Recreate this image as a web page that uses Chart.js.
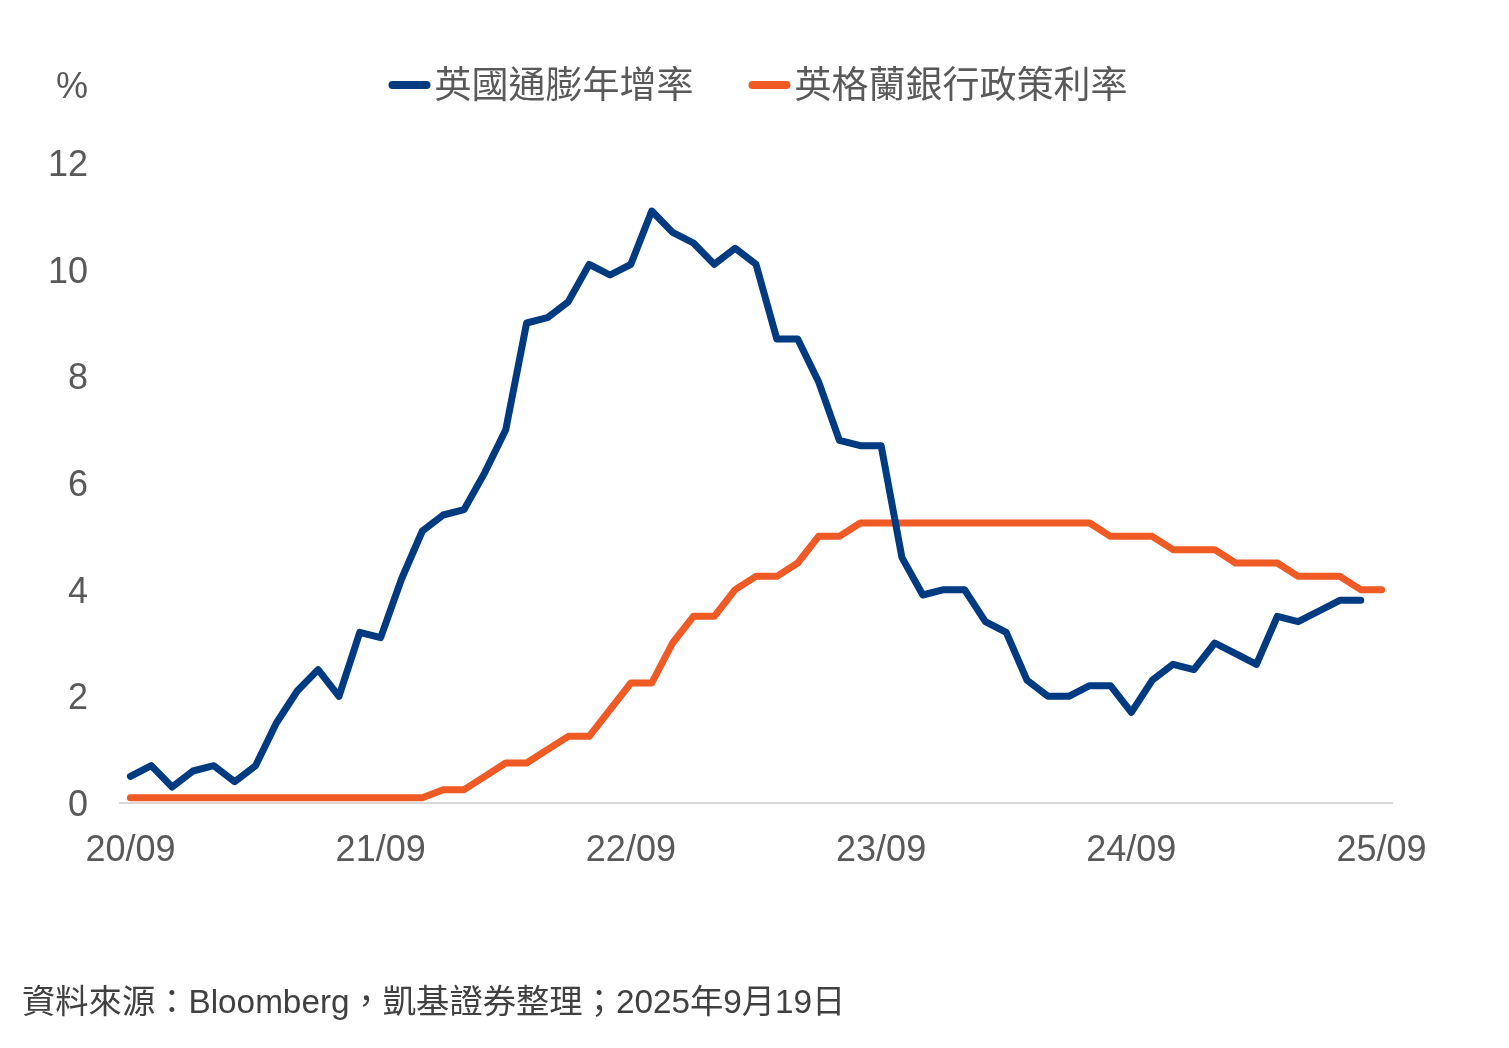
<!DOCTYPE html>
<html lang="zh-Hant">
<head>
  <meta charset="UTF-8" />
  <title>英國通膨年增率 vs 英格蘭銀行政策利率</title>
  <script src="https://cdn.jsdelivr.net/npm/chart.js"></script>
  <style>
    html, body { margin: 0; padding: 0; background: #fff; }
    #wrap { position: relative; width: 1509px; height: 1048px; }
    #chart { position: absolute; left: 0; top: 0; }
    #source {
      position: absolute; left: 22px; top: 974px;
      font-family: "Liberation Sans", "Noto Sans CJK TC", sans-serif;
      font-size: 33.3px; color: #404040; white-space: nowrap;
    }
  </style>
</head>
<body>
  <div id="wrap">
    <canvas id="chart" width="1509" height="1048"></canvas>
    <div id="source">資料來源：Bloomberg，凱基證券整理；2025年9月19日</div>
  </div>

  <script>
    const FONT = '"Liberation Sans", "Noto Sans CJK TC", sans-serif';
    const TEXT_COLOR = '#595959';

    // 月份 (YY/MM)
    const months = [
      '20/09','20/10','20/11','20/12',
      '21/01','21/02','21/03','21/04','21/05','21/06','21/07','21/08','21/09','21/10','21/11','21/12',
      '22/01','22/02','22/03','22/04','22/05','22/06','22/07','22/08','22/09','22/10','22/11','22/12',
      '23/01','23/02','23/03','23/04','23/05','23/06','23/07','23/08','23/09','23/10','23/11','23/12',
      '24/01','24/02','24/03','24/04','24/05','24/06','24/07','24/08','24/09','24/10','24/11','24/12',
      '25/01','25/02','25/03','25/04','25/05','25/06','25/07','25/08','25/09'
    ];
    const tickMonths = ['20/09', '21/09', '22/09', '23/09', '24/09', '25/09'];

    // 英國通膨年增率 (%)
    const ukCpi = [
      0.5, 0.7, 0.3, 0.6,
      0.7, 0.4, 0.7, 1.5, 2.1, 2.5, 2.0, 3.2, 3.1, 4.2, 5.1, 5.4,
      5.5, 6.2, 7.0, 9.0, 9.1, 9.4, 10.1, 9.9, 10.1, 11.1, 10.7, 10.5,
      10.1, 10.4, 10.1, 8.7, 8.7, 7.9, 6.8, 6.7, 6.7, 4.6, 3.9, 4.0,
      4.0, 3.4, 3.2, 2.3, 2.0, 2.0, 2.2, 2.2, 1.7, 2.3, 2.6, 2.5,
      3.0, 2.8, 2.6, 3.5, 3.4, 3.6, 3.8, 3.8, null
    ];

    // 英格蘭銀行政策利率 (%)
    const boeRate = [
      0.1, 0.1, 0.1, 0.1,
      0.1, 0.1, 0.1, 0.1, 0.1, 0.1, 0.1, 0.1, 0.1, 0.1, 0.1, 0.25,
      0.25, 0.5, 0.75, 0.75, 1.0, 1.25, 1.25, 1.75, 2.25, 2.25, 3.0, 3.5,
      3.5, 4.0, 4.25, 4.25, 4.5, 5.0, 5.0, 5.25, 5.25, 5.25, 5.25, 5.25,
      5.25, 5.25, 5.25, 5.25, 5.25, 5.25, 5.25, 5.0, 5.0, 5.0, 4.75, 4.75,
      4.75, 4.5, 4.5, 4.5, 4.25, 4.25, 4.25, 4.0, 4.0
    ];

    const yTicks = [0, 2, 4, 6, 8, 10, 12];

    // 自訂圖例與「%」單位
    const headerPlugin = {
      id: 'header',
      afterDraw(chart) {
        const ctx = chart.ctx;
        const y = 88;
        ctx.save();
        ctx.textBaseline = 'middle';
        ctx.fillStyle = TEXT_COLOR;

        // %
        ctx.font = '36px ' + FONT;
        ctx.textAlign = 'center';
        ctx.fillText('%', 72, y);

        // legend
        ctx.font = '37px ' + FONT;
        const lineW = 42, gapText = 4, gapItem = 55;
        const items = chart.data.datasets.map(ds => ({
          label: ds.label, color: ds.borderColor, w: lineW + gapText + ctx.measureText(ds.label).width
        }));
        const total = items.reduce((s, it) => s + it.w, 0) + gapItem * (items.length - 1);
        const area = chart.chartArea;
        let x = (area.left + area.right) / 2 - total / 2 + 2;
        ctx.textAlign = 'left';
        items.forEach(it => {
          ctx.strokeStyle = it.color;
          ctx.lineWidth = 8;
          ctx.lineCap = 'round';
          ctx.beginPath();
          ctx.moveTo(x + 4, y - 3);
          ctx.lineTo(x + lineW - 4, y - 3);
          ctx.stroke();
          ctx.fillStyle = TEXT_COLOR;
          ctx.fillText(it.label, x + lineW + gapText, y);
          x += it.w + gapItem;
        });
        ctx.restore();
      }
    };

    new Chart(document.getElementById('chart'), {
      type: 'line',
      data: {
        labels: months,
        datasets: [
          {
            label: '英國通膨年增率',
            data: ukCpi,
            borderColor: '#003A80',
            backgroundColor: '#003A80',
            borderWidth: 7,
            borderCapStyle: 'round',
            borderJoinStyle: 'round',
            pointRadius: 0,
            tension: 0,
            spanGaps: false
          },
          {
            label: '英格蘭銀行政策利率',
            data: boeRate,
            borderColor: '#F05A24',
            backgroundColor: '#F05A24',
            borderWidth: 7,
            borderCapStyle: 'round',
            borderJoinStyle: 'round',
            pointRadius: 0,
            tension: 0
          }
        ]
      },
      options: {
        responsive: false,
        animation: false,
        layout: { padding: { top: 163, right: 117, bottom: 175, left: 0 } },
        plugins: {
          legend: { display: false },
          tooltip: { enabled: false }
        },
        scales: {
          x: {
            offset: true,
            grid: { display: false, drawTicks: false },
            border: { display: true, color: '#D9D9D9', width: 2 },
            ticks: {
              autoSkip: false,
              maxRotation: 0,
              padding: 26,
              color: TEXT_COLOR,
              font: { family: FONT, size: 36 },
              callback(value) {
                const lab = this.getLabelForValue(value);
                return tickMonths.includes(lab) ? lab : '';
              }
            },
            afterFit(scale) { scale.height = 70; }
          },
          y: {
            min: 0,
            max: 12,
            afterBuildTicks(scale) { scale.ticks = yTicks.map(v => ({ value: v })); },
            grid: { display: false, drawTicks: false },
            border: { display: false },
            ticks: {
              padding: 32,
              labelOffset: 3,
              color: TEXT_COLOR,
              font: { family: FONT, size: 36 }
            },
            afterFit(scale) { scale.width = 120; }
          }
        }
      },
      plugins: [headerPlugin]
    });
  </script>
</body>
</html>
